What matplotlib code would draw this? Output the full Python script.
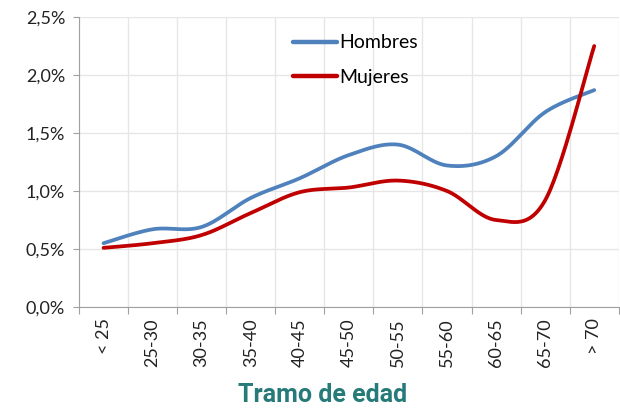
import numpy as np
import matplotlib
matplotlib.use("Agg")
import matplotlib.pyplot as plt
from matplotlib.ticker import FuncFormatter

# Data
tramos = ["< 25", "25-30", "30-35", "35-40", "40-45", "45-50", "50-55",
          "55-60", "60-65", "65-70", "> 70"]
hombres = [0.55, 0.67, 0.69, 0.94, 1.11, 1.31, 1.40, 1.22, 1.30, 1.68, 1.87]
mujeres = [0.51, 0.55, 0.62, 0.81, 0.99, 1.03, 1.09, 1.00, 0.75, 0.92, 2.25]


def smooth(y, n=30):
    # Excel-style smoothed line (Catmull-Rom through the points)
    y = np.asarray(y, dtype=float)
    x = np.arange(len(y), dtype=float)
    p = np.column_stack([x, y])
    p = np.vstack([p[0], p, p[-1]])
    out = []
    t = np.linspace(0, 1, n)[:, None]
    for i in range(1, len(p) - 2):
        p0, p1, p2, p3 = p[i - 1], p[i], p[i + 1], p[i + 2]
        c1 = p1 + (p2 - p0) / 6
        c2 = p2 - (p3 - p1) / 6
        seg = ((1 - t) ** 3) * p1 + 3 * ((1 - t) ** 2) * t * c1 \
            + 3 * (1 - t) * t ** 2 * c2 + t ** 3 * p2
        out.append(seg)
    s = np.vstack(out)
    return s[:, 0], s[:, 1]


plt.rcParams['font.family'] = ['Lato', 'DejaVu Sans']

fig = plt.figure(figsize=(6.2, 4.09), dpi=100)
ax = fig.add_axes([0.1274, 0.2494, 0.8706, 0.709])

xs, ys = smooth(hombres)
ax.plot(xs, ys, color='#4F81BD', lw=2.7, label='Hombres', solid_capstyle='round')
xs, ys = smooth(mujeres)
ax.plot(xs, ys, color='#C00000', lw=2.7, label='Mujeres', solid_capstyle='round')

ax.set_xlim(-0.5, len(tramos) - 0.5)
ax.set_ylim(0, 2.5)
ax.set_yticks(np.arange(0, 2.51, 0.5))
ax.yaxis.set_major_formatter(FuncFormatter(lambda v, p: f"{v:.1f}%".replace('.', ',')))

ax.set_xticks(np.arange(-0.5, len(tramos)), labels=[])
ax.set_xticks(np.arange(len(tramos)), labels=tramos, minor=True, rotation=90)
ax.tick_params(axis='x', which='minor', length=0, pad=8, labelsize=13, colors='#222222')
ax.tick_params(axis='x', which='major', length=5, color='#A0A0A0')
ax.tick_params(axis='y', length=4, color='#A0A0A0', labelsize=13, labelcolor='#222222', pad=6)

ax.grid(True, which='major', color='#E6E6E6', lw=1)
ax.set_axisbelow(True)
for s in ['top', 'right']:
    ax.spines[s].set_visible(False)
ax.spines['left'].set_color('#A0A0A0')
ax.spines['bottom'].set_color('#A0A0A0')

fig.text(0.52, 0.035, 'Tramo de edad', fontsize=18, fontweight='bold', color='#267A78',
         family=['Roboto', 'DejaVu Sans'], ha='center', va='center')

leg = ax.legend(loc='upper left', bbox_to_anchor=(0.396, 0.94), frameon=False,
                fontsize=14, handlelength=2.3, handletextpad=0.1, labelspacing=0.9,
                borderpad=0, borderaxespad=0)
for h in leg.get_lines():
    h.set_linewidth(3.2)

fig.savefig('out.png', dpi=100)
